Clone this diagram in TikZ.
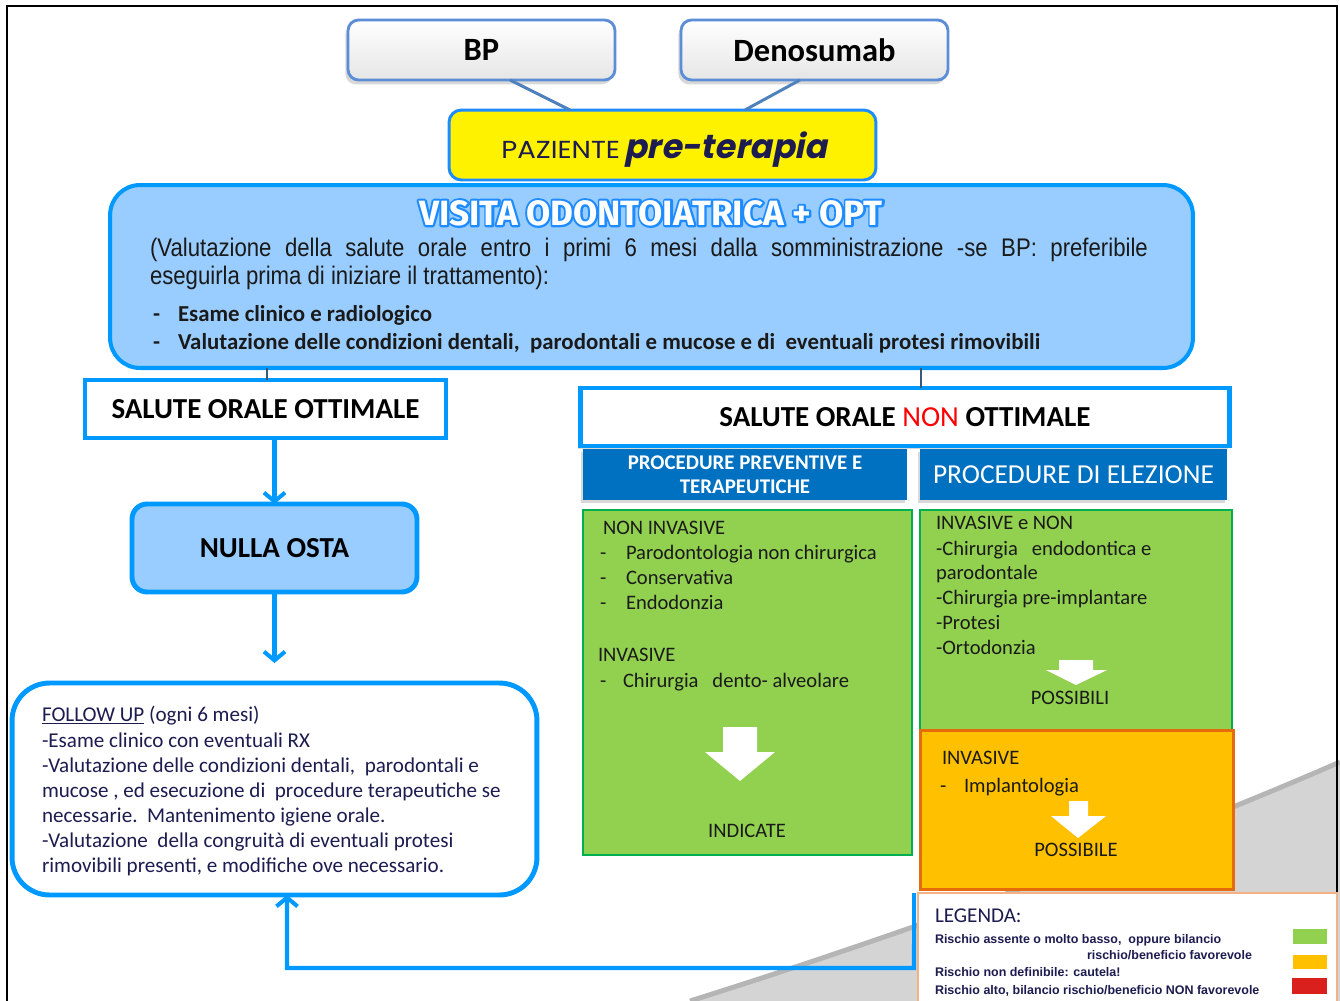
\documentclass[tikz,border=0pt]{standalone}
\usepackage{fontspec}
\setmainfont{Carlito}
\newfontfamily\narrowfont[FakeStretch=0.87]{Liberation Sans}
\newfontfamily\gothicfont[FakeStretch=1.12]{Poppins}
\newfontfamily\gothicslfont[FakeSlant=0.2]{Poppins}
\newfontfamily\titlefont{Fira Sans}
\newfontfamily\legfont{Liberation Sans}
\usetikzlibrary{arrows.meta,shadows,calc}
\definecolor{lblue}{HTML}{99CCFF}
\definecolor{bblue}{HTML}{0099FF}
\definecolor{hblue}{HTML}{0070C0}
\definecolor{vgreen}{HTML}{92D050}
\definecolor{dgreen}{HTML}{00B050}
\definecolor{orfill}{HTML}{FFC000}
\definecolor{ordraw}{HTML}{E46C0A}
\definecolor{legdraw}{HTML}{F4B183}
\definecolor{navy}{HTML}{1C1C50}
\definecolor{swred}{HTML}{D9201C}
\definecolor{bpdraw}{HTML}{5B8ED6}
\definecolor{greyfill}{HTML}{D4D4D4}
\definecolor{greyedge}{HTML}{B5B5B5}
\definecolor{connblue}{HTML}{4F81BD}
\definecolor{ttlblue}{HTML}{1E8CFF}
\definecolor{vline}{HTML}{3A5878}
\definecolor{txtdark}{HTML}{1A1A1A}
\tikzset{
  box/.style={draw, inner sep=0pt, outer sep=0pt},
  drugbox/.style={box, draw=bpdraw, line width=1.6pt, rounded corners=6pt,
    top color=white, bottom color=gray!20,
    drop shadow={opacity=0.3, shadow xshift=-1.5pt, shadow yshift=-2.5pt},
    minimum width=5.34cm, minimum height=1.2cm,
    font=\fontsize{18.5}{20}\selectfont\bfseries},
  bluebox/.style={box, draw=bblue, line width=2.8pt},
  headbox/.style={box, draw=none, fill=hblue, text=white,
    drop shadow={opacity=0.3, shadow xshift=-1pt, shadow yshift=-1.5pt}},
  greenbox/.style={box, fill=vgreen, draw=dgreen, line width=1.4pt},
  txt/.style={inner sep=0pt, outer sep=0pt, anchor=mid west, text=txtdark, yshift=-0.06cm,
    font=\fontsize{11.7}{14}\selectfont},
  ctxt/.style={txt, anchor=mid},
  futxt/.style={txt, text=navy, font=\fontsize{12}{14}\selectfont},
  bultxt/.style={txt, font=\fontsize{13}{15}\selectfont\bfseries},
  paratxt/.style={txt, font=\narrowfont\fontsize{14.5}{16}\selectfont},
  legtxt/.style={txt, text=navy, yshift=0.02cm, font=\legfont\bfseries\fontsize{7.1}{8}\selectfont},
  titletxt/.style={inner sep=0pt, outer sep=0pt, anchor=mid,
    font=\titlefont\bfseries\fontsize{20}{22}\selectfont},
  flow/.style={draw=bblue, line width=2.3pt, -{Straight Barb[length=5pt,width=12pt]}},
  conn/.style={draw=connblue, line width=1.7pt},
  vconn/.style={draw=vline, line width=0.9pt},
  blockarrow/.style={fill=white, draw=none},
}
\begin{document}
\begin{tikzpicture}[x=0.02cm, y=-0.02cm]
\useasboundingbox (0,0) rectangle (1340,1001);
\fill[white] (0,0) rectangle (1340,1001);
% grey swoosh
\fill[greyfill] (690,1001) .. controls (900,935) and (1150,845) .. (1340,762) -- (1340,1001) -- cycle;
\draw[greyedge, line width=2.8pt] (690,1001) .. controls (900,935) and (1150,845) .. (1340,762);
% frame
\draw[black, line width=1.1pt] (7,1001) -- (7,6) -- (1337,6) -- (1337,1001);

% top
\node[drugbox] (bp) at (481.5,50) {BP};
\node[drugbox] (deno) at (814.5,50) {Denosumab};
\node[box, fill=yellow, draw=ttlblue, line width=1.7pt, rounded corners=7pt,
      minimum width=8.54cm, minimum height=1.4cm] (paz) at (662.5,145) {};
\draw[conn] ([xshift=0.57cm]bp.south) -- ([xshift=-1.85cm]paz.north);
\draw[conn] ([xshift=-0.29cm]deno.south) -- ([xshift=1.65cm]paz.north);
\node[inner sep=0pt, anchor=base west, text=navy] (paztxt) at (501,158)
  {{\gothicfont\fontsize{14}{16}\selectfont PAZIENTE} {\gothicslfont\bfseries\fontsize{19}{21}\selectfont pre-terapia}};

% visita
\node[bluebox, fill=lblue, line width=2.3pt, rounded corners=0.6cm,
      minimum width=21.66cm, minimum height=3.66cm] (visita) at (651.5,276.5) {};
\node[titletxt, text=ttlblue] (vto) at (651,221)
  {\special{pdf:literal direct q 2 Tr 1 j 2.4 w 0.118 0.549 1 RG}VISITA ODONTOIATRICA + OPT\special{pdf:literal direct Q}};
\node[titletxt, text=white] (vtitle) at (651,221) {VISITA ODONTOIATRICA + OPT};
\node[paratxt] (vp1) at (150,249) {\makebox[568pt][s]{(Valutazione della salute orale entro i primi 6 mesi dalla somministrazione -se BP: preferibile}};
\node[paratxt] (vp2) at (150,277) {eseguirla prima di iniziare il trattamento):};
\node[bultxt] (vd1) at (153,314) {-};
\node[bultxt] (vb1) at (178,314) {Esame clinico e radiologico};
\node[bultxt] (vd2) at (153,342) {-};
\node[bultxt] (vb2) at (178,342) {Valutazione delle condizioni dentali,\ \ parodontali e mucose e di\ \ eventuali protesi rimovibili};

% left branch
\node[bluebox, fill=white, minimum width=7.22cm, minimum height=1.16cm,
      font=\fontsize{16.5}{18}\selectfont\bfseries] (soo) at (265.5,409) {SALUTE ORALE OTTIMALE};
\draw[vconn] ([xshift=0.03cm]soo.north) -- ([xshift=0.03cm]soo.north |- visita.south);
\node[bluebox, fill=lblue, rounded corners=0.3cm, minimum width=5.7cm, minimum height=1.76cm,
      font=\fontsize{16.5}{18}\selectfont\bfseries] (nulla) at (274.5,548) {NULLA OSTA};
\draw[flow] (nulla.north |- soo.south) -- (nulla.north);
\node[bluebox, fill=white, rounded corners=0.75cm, minimum width=10.5cm, minimum height=4.24cm] (follow) at (274.5,789) {};
\draw[flow] (nulla.south) -- ([yshift=0.4cm]follow.north);
\node[futxt] (f1) at (42,714) {\underline{FOLLOW UP} (ogni 6 mesi)};
\node[futxt] (f2) at (42,740) {-Esame clinico con eventuali RX};
\node[futxt] (f3) at (42,765) {-Valutazione delle condizioni dentali,\ \ parodontali e};
\node[futxt] (f4) at (42,790) {mucose , ed esecuzione di\ \ procedure terapeutiche se};
\node[futxt] (f5) at (42,815) {necessarie.\ \ Mantenimento igiene orale.};
\node[futxt] (f6) at (42,840) {-Valutazione\ \ della congruità di eventuali protesi};
\node[futxt] (f7) at (42,865) {rimovibili presenti, e modifiche ove necessario.};

% right branch
\node[bluebox, fill=white, minimum width=13.0cm, minimum height=1.16cm,
      drop shadow={opacity=0.3, shadow xshift=-1pt, shadow yshift=-1.5pt},
      font=\fontsize{16.5}{18}\selectfont\bfseries] (sono) at (905,417)
  {SALUTE ORALE {\mdseries\color{red}NON} OTTIMALE};
\draw[vconn] ([xshift=0.32cm]sono.north) -- ([xshift=0.32cm]sono.north |- visita.south);
\node[headbox, minimum width=6.48cm, minimum height=1.02cm, align=center,
      font=\fontsize{11.9}{13.6}\selectfont\bfseries] (h1) at (745,474.5)
  {PROCEDURE PREVENTIVE E\\TERAPEUTICHE};
\node[headbox, minimum width=6.14cm, minimum height=1.02cm,
      font=\fontsize{15.6}{17}\selectfont] (h2) at (1073.5,474.5) {PROCEDURE DI ELEZIONE};

\node[greenbox, minimum width=6.58cm, minimum height=6.9cm] (g1) at (747.5,682.5) {};
\node[txt] (g1a) at (603,527) {NON INVASIVE};
\node[txt] (g1d1) at (600,552) {-};
\node[txt] (g1b) at (626,552) {Parodontologia non chirurgica};
\node[txt] (g1d2) at (600,577) {-};
\node[txt] (g1c) at (626,577) {Conservativa};
\node[txt] (g1d3) at (600,602) {-};
\node[txt] (g1e) at (626,602) {Endodonzia};
\node[txt] (g1f) at (598,654) {INVASIVE};
\node[txt] (g1d4) at (600,680) {-};
\node[txt] (g1g) at (623,680) {Chirurgia\ \ \ dento- alveolare};
\fill[blockarrow] (723,727) -- (757,727) -- (757,752) -- (775,752) -- (740,781) -- (705,752) -- (723,752) -- cycle;
\node[ctxt] (g1h) at (747,830) {INDICATE};

\node[greenbox, minimum width=6.24cm, minimum height=4.4cm] (g2) at (1076,620) {};
\node[txt] (g2a) at (936,522) {INVASIVE e NON};
\node[txt] (g2b) at (936,548) {-Chirurgia\ \ \ endodontica e};
\node[txt] (g2c) at (936,572) {parodontale};
\node[txt] (g2d) at (936,597) {-Chirurgia pre-implantare};
\node[txt] (g2e) at (936,622) {-Protesi};
\node[txt] (g2f) at (936,647) {-Ortodonzia};
\fill[blockarrow] (1059,660) -- (1093,660) -- (1093,670) -- (1107,670) -- (1076,685) -- (1046,670) -- (1059,670) -- cycle;
\node[ctxt] (g2g) at (1070,697) {POSSIBILI};

\node[box, fill=orfill, draw=ordraw, line width=1.7pt, minimum width=6.28cm, minimum height=3.2cm] (or) at (1077,810) {};
\node[txt] (ora) at (942,757) {INVASIVE};
\node[txt] (ord) at (940,785) {-};
\node[txt] (orb) at (964,785) {Implantologia};
\fill[blockarrow] (1069,801) -- (1088,801) -- (1088,816) -- (1106,816) -- (1078,838) -- (1051,816) -- (1069,816) -- cycle;
\node[ctxt] (orc) at (1076,849) {POSSIBILE};

% legend
\node[box, fill=white, draw=legdraw, line width=0.8pt, minimum width=8.38cm, minimum height=2.24cm] (leg) at (1127.5,949) {};
\node[txt, text=navy, font=\fontsize{12}{14}\selectfont] (legt) at (935,915) {LEGENDA:};
\node[legtxt] (l1) at (935,937) {Rischio assente o molto basso,\ \ oppure bilancio};
\node[legtxt, anchor=mid east] (l2) at (1252,953) {rischio/beneficio favorevole};
\node[legtxt] (l3) at (935,970) {Rischio non definibile: cautela!};
\node[legtxt] (l4) at (935,988) {Rischio alto, bilancio rischio/beneficio NON favorevole};
\fill[vgreen] (1293,929) rectangle (1327,944);
\fill[orfill] (1293,955) rectangle (1327,969);
\fill[swred] (1292,978) rectangle (1327,994);

% feedback
\coordinate (fbc) at (914,968);
\coordinate (fbl) at (287,968);
\draw[flow] ([xshift=-0.08cm]leg.north west) -- (fbc) -- (fbl) -- (fbl |- follow.south);
\end{tikzpicture}
\end{document}
